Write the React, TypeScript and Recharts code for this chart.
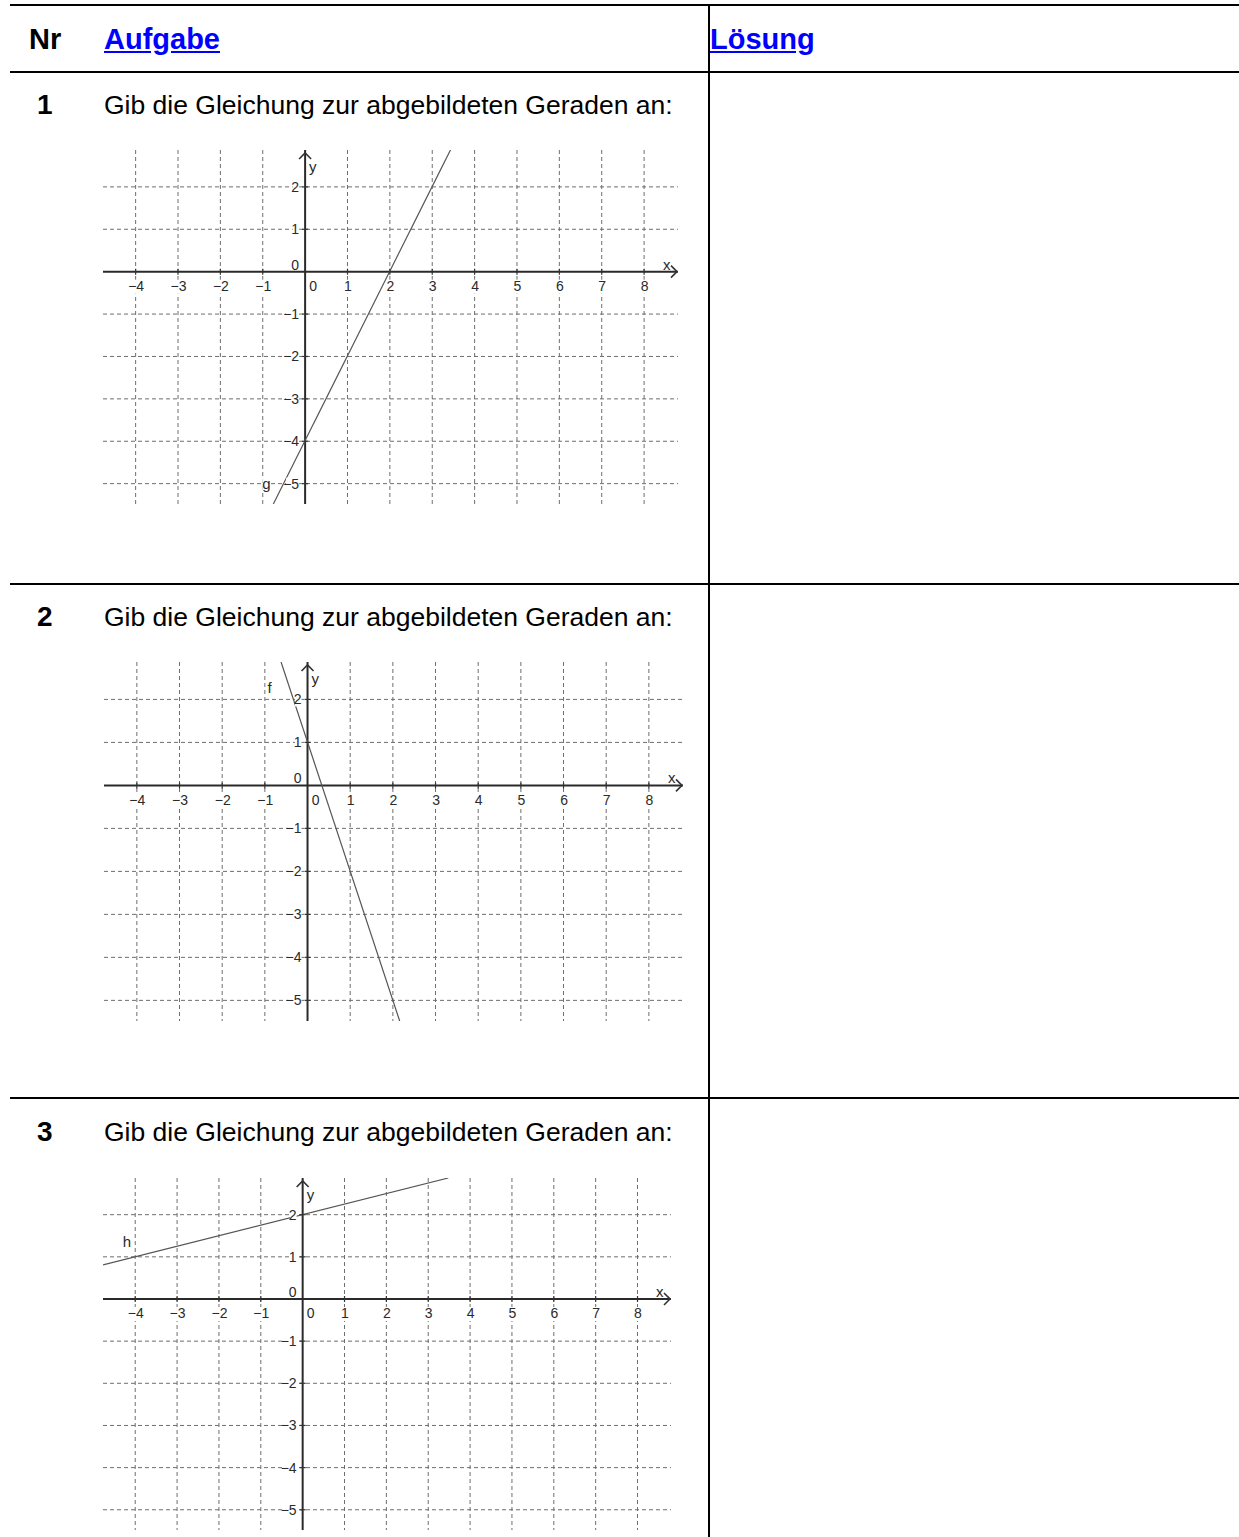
import React from 'react';
import { ComposedChart, XAxis, YAxis, CartesianGrid, Line, Scatter, ReferenceLine } from 'recharts';

// ---- data ----
const xTicks = [-4, -3, -2, -1, 1, 2, 3, 4, 5, 6, 7, 8];
const yTicks = [2, 1, -1, -2, -3, -4, -5];
const xDomain: [number, number] = [-4.77, 8.8];
const yDomain: [number, number] = [-5.48, 2.87];

const lineG = [{ x: -0.75, y: -5.48 }, { x: 3.43, y: 2.87 }];
const lineF = [{ x: -0.62, y: 2.87 }, { x: 2.16, y: -5.48 }];
const lineH = [{ x: -4.77, y: 0.81 }, { x: 3.48, y: 2.87 }];

const labelG = [{ x: -1.01, y: -5.12, name: 'g' }];
const labelF = [{ x: -0.94, y: 2.16, name: 'f' }];
const labelH = [{ x: -4.3, y: 1.23, name: 'h' }];

const taskNumbers = ['1', '2', '3'];
const taskText = 'Gib die Gleichung zur abgebildeten Geraden an:';
const headers = ['Nr', 'Aufgabe', 'Lösung'];

// ---- layout ----
const FONT = '"Liberation Sans", Arial, Helvetica, sans-serif';
const M = 12;
const graphs = [
  { left: 102.9, top: 150.3, width: 575, height: 354, line: lineG, label: labelG },
  { left: 103.5, top: 661.6, width: 579, height: 359, line: lineF, label: labelF },
  { left: 102.5, top: 1177.9, width: 568, height: 352, line: lineH, label: labelH },
];
const rowOffsets = [0, 512, 1027];

const fmt = (v: number) => (v < 0 ? '\u2212' + Math.abs(v) : String(v));

const xTickPts = xTicks.map((v) => ({ x: v, y: 0 }));
const yTickPts = yTicks.map((v) => ({ x: 0, y: v }));
const originPts = [{ x: 0, y: 0 }];
const xArrowPts = [{ x: xDomain[1], y: 0 }];
const yArrowPts = [{ x: 0, y: yDomain[1] }];

const TXT = { fontFamily: FONT, fontSize: 14, fill: '#2a2a2a' } as const;

const XTickShape = (p: any) => {
  const { cx, cy, payload } = p;
  const s = fmt(payload.x);
  const w = s.length * 7;
  return (
    <g>
      <rect x={cx + 0.5 - w / 2} y={cy + 8} width={w} height={14} fill="#fff" />
      <text x={cx + 0.5} y={cy + 19.5} textAnchor="middle" {...TXT}>{s}</text>
      <line x1={cx} x2={cx} y1={cy - 3} y2={cy + 3} stroke="#333" strokeWidth={1.2} />
    </g>
  );
};
const YTickShape = (p: any) => {
  const { cx, cy, payload } = p;
  const s = fmt(payload.y);
  const w = s.length * 6.5;
  return (
    <g>
      <rect x={cx - 6 - w} y={cy - 6} width={w} height={13} fill="#fff" />
      <text x={cx - 6} y={cy + 5} textAnchor="end" {...TXT}>{s}</text>
      <line x1={cx - 3} x2={cx + 3} y1={cy} y2={cy} stroke="#333" strokeWidth={1.2} />
    </g>
  );
};
const OriginShape = (p: any) => {
  const { cx, cy } = p;
  return (
    <g>
      <text x={cx + 8} y={cy + 19.5} textAnchor="middle" {...TXT}>0</text>
      <text x={cx - 6} y={cy - 2} textAnchor="end" {...TXT}>0</text>
    </g>
  );
};
const XArrowShape = (p: any) => {
  const { cx, cy } = p;
  return (
    <g>
      <polyline points={`${cx - 7},${cy - 6} ${cx - 1},${cy} ${cx - 7},${cy + 6}`} fill="none" stroke="#333" strokeWidth={1.6} />
      <text x={cx - 15} y={cy - 2} {...TXT} fontSize={15}>x</text>
    </g>
  );
};
const YArrowShape = (p: any) => {
  const { cx, cy } = p;
  return (
    <g>
      <polyline points={`${cx - 6},${cy + 9} ${cx},${cy + 3} ${cx + 6},${cy + 9}`} fill="none" stroke="#333" strokeWidth={1.6} />
      <text x={cx + 4} y={cy + 22} {...TXT} fontSize={15}>y</text>
    </g>
  );
};
const NameShape = (p: any) => {
  const { cx, cy, payload } = p;
  return (
    <g>
      <rect x={cx} y={cy - 11} width={8} height={14} fill="#fff" />
      <text x={cx} y={cy} {...TXT} fontSize={15}>{payload.name}</text>
    </g>
  );
};

function Graph({ g }: { g: (typeof graphs)[number] }) {
  return (
    <div style={{ position: 'absolute', left: g.left - M, top: g.top - M }}>
      <ComposedChart width={g.width + 2 * M} height={g.height + 2 * M} margin={{ top: M, right: M, bottom: M, left: M }}>
        <XAxis type="number" dataKey="x" domain={xDomain} allowDataOverflow hide />
        <YAxis type="number" dataKey="y" domain={yDomain} allowDataOverflow hide />
        <CartesianGrid
          horizontalValues={yTicks}
          verticalValues={xTicks}
          stroke="#6e6e6e"
          strokeDasharray="4 3"
          strokeWidth={1}
        />
        <Scatter data={xTickPts} shape={XTickShape} isAnimationActive={false} />
        <Scatter data={yTickPts} shape={YTickShape} isAnimationActive={false} />
        <Scatter data={g.label} shape={NameShape} isAnimationActive={false} />
        <ReferenceLine x={0} stroke="#2a2a2a" strokeWidth={2} />
        <ReferenceLine y={0} stroke="#2a2a2a" strokeWidth={2} />
        <Line data={g.line} dataKey="y" stroke="#555" strokeWidth={1.2} dot={false} activeDot={false} isAnimationActive={false} />
        <Scatter data={originPts} shape={OriginShape} isAnimationActive={false} />
        <Scatter data={xArrowPts} shape={XArrowShape} isAnimationActive={false} />
        <Scatter data={yArrowPts} shape={YArrowShape} isAnimationActive={false} />
      </ComposedChart>
    </div>
  );
}

const hline = (top: number): React.CSSProperties => ({ position: 'absolute', left: 10, top, width: 1229, height: 2, background: '#000' });

export default function App() {
  const headerStyle: React.CSSProperties = { position: 'absolute', top: 24.5, fontFamily: FONT, fontSize: 29, lineHeight: '29px', fontWeight: 'bold', whiteSpace: 'nowrap' };
  const linkStyle: React.CSSProperties = { ...headerStyle, color: '#0000ff', textDecoration: 'underline' };
  return (
    <div style={{ position: 'absolute', left: 0, top: 0, width: 1239, height: 1537, overflow: 'hidden', background: '#fff' }}>
      <div style={hline(4)} />
      <div style={hline(71)} />
      <div style={hline(583)} />
      <div style={hline(1097)} />
      <div style={{ position: 'absolute', left: 708, top: 4, width: 2, height: 1533, background: '#000' }} />
      <div style={{ ...headerStyle, left: 29 }}>{headers[0]}</div>
      <div style={{ ...linkStyle, left: 104 }}>{headers[1]}</div>
      <div style={{ ...linkStyle, left: 710 }}>{headers[2]}</div>
      {taskNumbers.map((n, i) => (
        <React.Fragment key={n}>
          <div style={{ position: 'absolute', left: 37, top: 91.3 + rowOffsets[i], fontFamily: FONT, fontSize: 28, lineHeight: '28px', fontWeight: 'bold' }}>{n}</div>
          <div style={{ position: 'absolute', left: 104, top: 91.6 + rowOffsets[i], fontFamily: FONT, fontSize: 26.5, lineHeight: '26.5px', whiteSpace: 'nowrap' }}>{taskText}</div>
        </React.Fragment>
      ))}
      {graphs.map((g, i) => (
        <Graph key={i} g={g} />
      ))}
    </div>
  );
}
